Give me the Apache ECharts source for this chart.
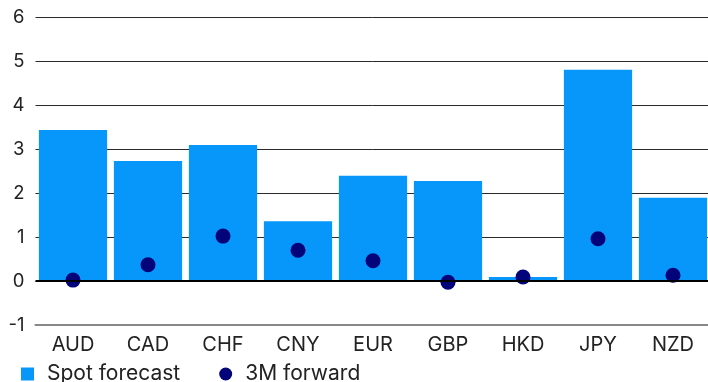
<!DOCTYPE html>
<html><head><meta charset="utf-8">
<script src="https://cdn.jsdelivr.net/npm/echarts@6/dist/echarts.min.js"></script>
<style>html,body{margin:0;padding:0;background:#fff}#c{width:708px;height:382px}</style>
</head><body><div id="c"></div>
<script>
const categories = ['AUD','CAD','CHF','CNY','EUR','GBP','HKD','JPY','NZD'];
const spotForecast = [3.43, 2.73, 3.09, 1.36, 2.39, 2.27, 0.09, 4.80, 1.89];
const forward3M = [0.02, 0.37, 1.02, 0.70, 0.46, -0.03, 0.09, 0.96, 0.13];
const yTicks = [-1, 0, 1, 2, 3, 4, 5, 6];

const font = 'Inter, Roboto, sans-serif';
const chart = echarts.init(document.getElementById('c'), null, {renderer: 'canvas'});
chart.setOption({
  animation: false,
  grid: {left: 35.5, right: -2.5, top: 17, bottom: 57, containLabel: false, outerBoundsMode: 'none'},
  legend: {
    left: 21, top: 363.5, padding: 0, itemWidth: 13, itemHeight: 13, itemGap: 39,
    textStyle: {fontFamily: font, fontSize: 21, color: '#222', padding: [0,0,0,8]},
    data: [{name: 'Spot forecast', icon: 'rect'}, {name: '3M forward', icon: 'circle'}]
  },
  xAxis: {
    type: 'category', data: categories,
    axisLine: {onZero: false, lineStyle: {color: '#888', width: 2}},
    axisTick: {show: false},
    axisLabel: {fontFamily: font, fontSize: 20, color: '#222', margin: 10}
  },
  yAxis: {
    type: 'value', min: yTicks[0], max: yTicks[yTicks.length-1], interval: 1,
    axisLine: {show: false}, axisTick: {show: false},
    axisLabel: {fontFamily: font, fontSize: 18.5, color: '#222', margin: 11},
    splitLine: {lineStyle: {color: '#2a2a2a', width: 1}}
  },
  series: [
    {name: 'Spot forecast', type: 'bar', data: spotForecast, barCategoryGap: '9%',
     itemStyle: {color: '#0797fa'},
     markLine: {silent: true, symbol: 'none', label: {show: false},
       lineStyle: {color: '#000', width: 2, type: 'solid'}, data: [{yAxis: 0}]}},
    {name: '3M forward', type: 'scatter', data: forward3M, symbolSize: 15,
     itemStyle: {color: '#03037a', opacity: 1}, z: 3}
  ]
});
</script></body></html>
